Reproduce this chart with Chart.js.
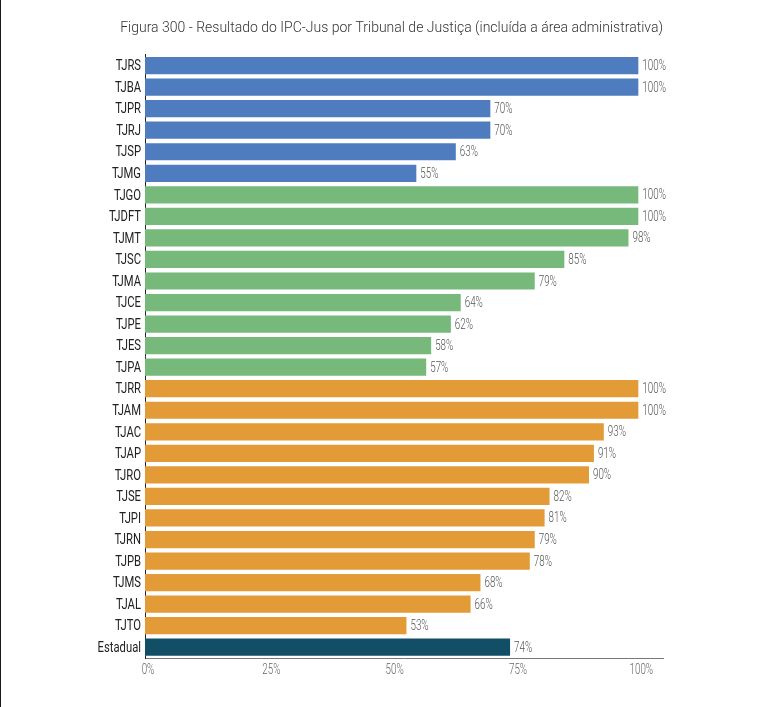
<!DOCTYPE html>
<html>
<head>
<meta charset="utf-8">
<script src="https://cdn.jsdelivr.net/npm/chart.js@4"></script>
<style>
    html, body { margin: 0; padding: 0; background: #fff; }
    #wrap { position: relative; width: 768px; height: 707px; }
    #edge { position: absolute; left: 0; top: 0; width: 1px; height: 707px; background: #1a1a1a; }
</style>
</head>
<body>
<div id="wrap">
    <canvas id="chart" width="768" height="707"></canvas>
    <div id="edge"></div>
</div>
<script>
// =========================
// DATA
// =========================
const tribunais = [
    'TJRS', 'TJBA', 'TJPR', 'TJRJ', 'TJSP', 'TJMG',
    'TJGO', 'TJDFT', 'TJMT', 'TJSC', 'TJMA', 'TJCE', 'TJPE', 'TJES', 'TJPA',
    'TJRR', 'TJAM', 'TJAC', 'TJAP', 'TJRO', 'TJSE', 'TJPI', 'TJRN', 'TJPB', 'TJMS', 'TJAL', 'TJTO',
    'Estadual',
];
const ipcJus = [
    100, 100, 70, 70, 63, 55,
    100, 100, 98, 85, 79, 64, 62, 58, 57,
    100, 100, 93, 91, 90, 82, 81, 79, 78, 68, 66, 53,
    74,
];
// porte: grande / medio / pequeno / total
const porte = [
    'g', 'g', 'g', 'g', 'g', 'g',
    'm', 'm', 'm', 'm', 'm', 'm', 'm', 'm', 'm',
    'p', 'p', 'p', 'p', 'p', 'p', 'p', 'p', 'p', 'p', 'p', 'p',
    't',
];
const xTicks = [0, 25, 50, 75, 100];

const colors = {
    g: '#4f7bbf',
    m: '#77b87b',
    p: '#e29b37',
    t: '#124e66',
};

// condensed text: no narrow font installed, so squeeze Roboto horizontally
function narrowText(ctx, text, x, y, { size, color, align, weight = '400', squeeze = 0.7 }) {
    ctx.save();
    ctx.font = weight + ' ' + size + 'px Roboto';
    ctx.fillStyle = color;
    ctx.textBaseline = 'middle';
    ctx.textAlign = align;
    ctx.translate(x, y);
    ctx.scale(squeeze, 1);
    ctx.fillText(text, 0, 0);
    ctx.restore();
}

const narrowLabels = {
    id: 'narrowLabels',
    afterDatasetsDraw(chart) {
        const { ctx, scales } = chart;
        const meta = chart.getDatasetMeta(0);

        // value labels to the right of each bar
        meta.data.forEach((bar, i) => {
            narrowText(ctx, ipcJus[i] + '%', bar.x + 4, bar.y + 1,
                { size: 14, color: '#555', align: 'left', weight: '300' });
        });

        // category labels
        chart.data.labels.forEach((label, i) => {
            narrowText(ctx, label, scales.y.left + scales.y.width - 4, scales.y.getPixelForTick(i) + 1,
                { size: 15, color: '#222', align: 'right', squeeze: 0.75 });
        });

        // x tick labels
        scales.x.ticks.forEach((t) => {
            narrowText(ctx, t.value + '%', scales.x.getPixelForValue(t.value) + 3, scales.x.top + 12,
                { size: 14, color: '#666', align: 'center', weight: '300' });
        });
    },
};

new Chart(document.getElementById('chart'), {
    type: 'bar',
    data: {
        labels: tribunais,
        datasets: [{
            data: ipcJus,
            backgroundColor: porte.map((p) => colors[p]),
            borderWidth: 0,
            barPercentage: 0.8,
            categoryPercentage: 1,
        }],
    },
    options: {
        indexAxis: 'y',
        responsive: false,
        animation: false,
        layout: { padding: { left: 0, right: 105, top: 0, bottom: 0 } },
        plugins: {
            legend: { display: false },
            tooltip: { enabled: false },
            title: {
                display: true,
                align: 'end',
                text: 'Figura 300 - Resultado do IPC-Jus por Tribunal de Justiça (incluída a área administrativa)',
                color: '#333',
                font: { family: 'Roboto', size: 14, weight: '300' },
                padding: { top: 20, bottom: 18 },
            },
        },
        scales: {
            x: {
                min: 0,
                max: 105,
                grid: { display: false, drawTicks: false },
                border: { display: true, color: '#777', width: 1 },
                afterBuildTicks: (axis) => {
                    axis.ticks = xTicks.map((v) => ({ value: v }));
                },
                ticks: { display: false },
                afterFit: (scale) => { scale.height = 49; },
            },
            y: {
                grid: { display: false, drawTicks: false },
                border: { display: true, color: '#222', width: 1 },
                ticks: { display: false, autoSkip: false },
                afterFit: (scale) => { scale.width = 145; },
            },
        },
    },
    plugins: [narrowLabels],
});
</script>
</body>
</html>
